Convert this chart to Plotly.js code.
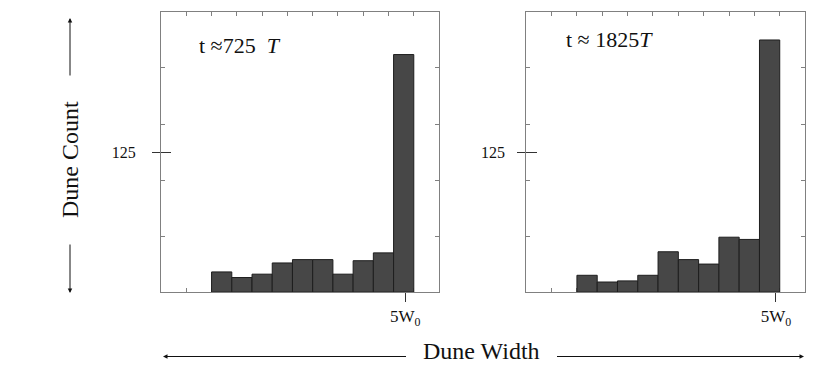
<!DOCTYPE html>
<html>
<head>
<meta charset="utf-8">
<script src="https://cdn.plot.ly/plotly-3.0.1.min.js"></script>
<style>
  html, body { margin: 0; padding: 0; background: #fff; }
  #plot { width: 830px; height: 374px; }
</style>
</head>
<body>
<div id="plot"></div>
<script>
// histogram bins (dune width, arbitrary units) and counts
var binCenters = [2.4, 3.2, 4.0, 4.8, 5.6, 6.4, 7.2, 8.0, 8.8, 9.6];
var countsEarly = [18, 13, 16, 26, 29, 29, 16, 28, 35, 212];
var countsLate = [15, 9, 10, 15, 36, 29, 25, 49, 47, 225];

var panelLabels = ['t\u00A0≈725\u00A0\u00A0<i>T</i>', 't\u00A0≈\u00A01825<i>T</i>'];
var countTickVals = [125];
var countTickText = ['125'];
var countMinorVals = [50, 100, 150, 200];
var widthMinorVals = [1, 2, 3, 4, 5, 6, 7, 8, 9, 10];
var widthTickVals = [9.66, 9.85];
var widthTickText = ['5W<sub>0</sub>'];

var binWidth = 0.8;
var font = 'Liberation Serif, Times New Roman, serif';
var frameColor = '#808080';
var darkTick = '#333333';

function bars(counts, xa, ya) {
    return {
        x: binCenters,
        y: counts,
        width: binWidth,
        type: 'bar',
        xaxis: xa,
        yaxis: ya,
        marker: {
            color: '#474747',
            line: { color: '#1e1e1e', width: 1 }
        },
        hoverinfo: 'skip'
    };
}

// empty traces so that the overlaid tick-only axes get drawn
function blank(xa, ya) {
    return { x: [], y: [], type: 'scatter', mode: 'markers', xaxis: xa, yaxis: ya, hoverinfo: 'skip' };
}

var data = [
    bars(countsEarly, 'x', 'y'),
    bars(countsLate, 'x2', 'y2'),
    blank('x3', 'y'), blank('x', 'y3'), blank('x', 'y4'), blank('x', 'y7'),
    blank('x4', 'y2'), blank('x2', 'y5'), blank('x2', 'y6'), blank('x2', 'y8')
];

var base = { showgrid: false, zeroline: false, fixedrange: true };

function mainX(domain, anchor, tick) {
    return Object.assign({}, base, {
        domain: domain, anchor: anchor, range: [0, 11],
        showline: true, mirror: true, linecolor: frameColor, linewidth: 1,
        layer: 'below traces',
        tickmode: 'array', tickvals: [tick], ticktext: widthTickText,
        ticks: 'outside', ticklen: 9, tickcolor: darkTick, tickwidth: 1,
        tickfont: { family: font, size: 17, color: '#111' },
        minor: { tickmode: 'array', tickvals: widthMinorVals, ticks: 'inside', ticklen: 4, tickcolor: frameColor }
    });
}

function mainY(anchor, standoff) {
    return Object.assign({}, base, {
        domain: [0.219, 0.968], anchor: anchor, range: [0, 250],
        showline: true, mirror: true, linecolor: frameColor, linewidth: 1,
        tickmode: 'array', tickvals: countTickVals, ticktext: countTickText,
        ticks: 'outside', ticklen: 8, tickcolor: darkTick, tickwidth: 1,
        ticklabelstandoff: standoff,
        tickfont: { family: font, size: 16, color: '#111' }
    });
}

function topX(over, anchor) {
    return Object.assign({}, base, {
        overlaying: over, anchor: anchor, side: 'top', range: [0, 11],
        showline: false, showticklabels: false,
        tickmode: 'array', tickvals: widthMinorVals,
        ticks: 'inside', ticklen: 4, tickcolor: frameColor
    });
}

function sideY(over, anchor, side, vals, len, color) {
    return Object.assign({}, base, {
        overlaying: over, anchor: anchor, side: side, range: [0, 250],
        showline: false, showticklabels: false,
        tickmode: 'array', tickvals: vals,
        ticks: 'inside', ticklen: len, tickcolor: color
    });
}

function label(text, xref, yref, x, y) {
    return {
        text: text, xref: xref, yref: yref, x: x, y: y,
        xanchor: 'left', yanchor: 'middle', showarrow: false,
        font: { family: font, size: 22, color: '#111' }
    };
}

function arrow(x, y, ax, ay) {
    return {
        text: ' ', xref: 'paper', yref: 'paper', x: x / 830, y: 1 - y / 374,
        ax: ax, ay: ay, showarrow: true,
        arrowhead: 2, arrowsize: 0.9, arrowwidth: 1, arrowcolor: '#111', standoff: 0
    };
}

var layout = {
    width: 830,
    height: 374,
    margin: { l: 0, r: 0, t: 0, b: 0 },
    paper_bgcolor: '#ffffff',
    plot_bgcolor: 'rgba(0,0,0,0)',
    showlegend: false,
    bargap: 0,
    font: { family: font, color: '#111' },
    xaxis: mainX([0.194, 0.529], 'y', widthTickVals[0]),
    yaxis: mainY('x', 13),
    xaxis2: mainX([0.634, 0.970], 'y2', widthTickVals[1]),
    yaxis2: mainY('x2', 9),
    xaxis3: topX('x', 'y'),
    yaxis3: sideY('y', 'x', 'right', countMinorVals, 4, frameColor),
    yaxis4: sideY('y', 'x', 'left', countMinorVals, 4, frameColor),
    yaxis7: sideY('y', 'x', 'left', countTickVals, 10, darkTick),
    xaxis4: topX('x2', 'y2'),
    yaxis5: sideY('y2', 'x2', 'right', countMinorVals, 4, frameColor),
    yaxis6: sideY('y2', 'x2', 'left', countMinorVals, 4, frameColor),
    yaxis8: sideY('y2', 'x2', 'left', countTickVals, 11, darkTick),
    annotations: [
        label(panelLabels[0], 'x domain', 'y domain', 0.13, 0.88),
        label(panelLabels[1], 'x2 domain', 'y2 domain', 0.135, 0.9),
        {
            text: 'Dune Count', xref: 'paper', yref: 'paper', x: 70 / 830, y: 1 - 160 / 374,
            textangle: -90, showarrow: false, xanchor: 'center', yanchor: 'middle',
            font: { family: font, size: 24, color: '#111' }
        },
        {
            text: 'Dune Width', xref: 'paper', yref: 'paper', x: 481 / 830, y: 1 - 351 / 374,
            showarrow: false, xanchor: 'center', yanchor: 'middle',
            font: { family: font, size: 24, color: '#111' }
        },
        arrow(70, 18, 0, 66),
        arrow(70, 293, 0, -57),
        arrow(163, 356.5, 246, 0),
        arrow(804, 356.5, -250, 0)
    ]
};

Plotly.newPlot('plot', data, layout, { staticPlot: true });
</script>
</body>
</html>
